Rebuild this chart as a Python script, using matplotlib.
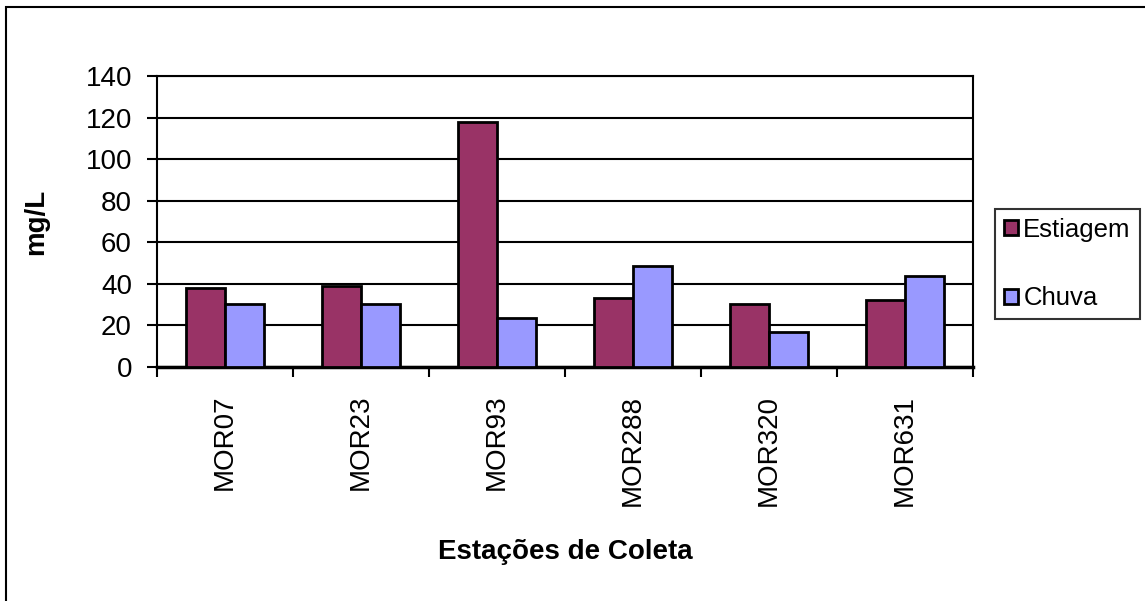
import matplotlib
matplotlib.use('Agg')
import matplotlib.pyplot as plt
import numpy as np
from matplotlib.patches import Rectangle

plt.rcParams['font.family'] = ['Liberation Sans', 'DejaVu Sans']

# Dados
estacoes = ['MOR07', 'MOR23', 'MOR93', 'MOR288', 'MOR320', 'MOR631']
estiagem = [38, 39, 118, 33, 30.5, 32]
chuva = [30.5, 30.5, 23.5, 48.5, 17, 44]

fig = plt.figure(figsize=(11.45, 6.01), dpi=100)
ax = fig.add_axes([157 / 1145, 1 - 367 / 601, 816 / 1145, 291 / 601])

x = np.arange(len(estacoes))
w = 0.2857
ax.bar(x - w / 2, estiagem, w, color='#993366', edgecolor='black', linewidth=2,
       label='Estiagem', zorder=3)
ax.bar(x + w / 2, chuva, w, color='#9999FF', edgecolor='black', linewidth=2,
       label='Chuva', zorder=3)

ax.set_xlim(-0.5, len(estacoes) - 0.5)
ax.set_ylim(0, 140)
ax.set_yticks(np.arange(0, 141, 20))
ax.yaxis.grid(True, color='black', linewidth=1.5, zorder=0)

# ticks entre categorias
ax.set_xticks(np.arange(-0.5, len(estacoes), 1))
ax.set_xticklabels([])
ax.set_xticks(x, minor=True)
ax.set_xticklabels(estacoes, minor=True, rotation=90, fontsize=20)
ax.tick_params(axis='x', which='minor', length=0, pad=20)
ax.tick_params(axis='x', which='major', length=7, width=1.5)
ax.tick_params(axis='y', length=7, width=1.5, labelsize=20, pad=11)

for s in ax.spines.values():
    s.set_linewidth(1.5)
ax.spines['bottom'].set_linewidth(2.5)

ax.set_ylabel('mg/L', fontsize=20, fontweight='bold', labelpad=26)
ax.set_xlabel('Estações de Coleta', fontsize=20, fontweight='bold', labelpad=24)

leg = ax.legend(loc='center left', bbox_to_anchor=(995 / 1145, 1 - 264 / 601),
                bbox_transform=fig.transFigure, fontsize=18.5, frameon=True,
                fancybox=False, edgecolor='black', handlelength=0.55,
                handleheight=0.55, handletextpad=0.2, labelspacing=1.75,
                borderpad=0.35, borderaxespad=0)
leg.get_frame().set_linewidth(1.5)

# moldura da figura
fig.patches.append(Rectangle((6 / 1145, -0.1), 1.2, 1 - 7 / 601 + 0.1,
                             transform=fig.transFigure, fill=False,
                             edgecolor='black', linewidth=1.5))

fig.savefig('out.png', dpi=100)
